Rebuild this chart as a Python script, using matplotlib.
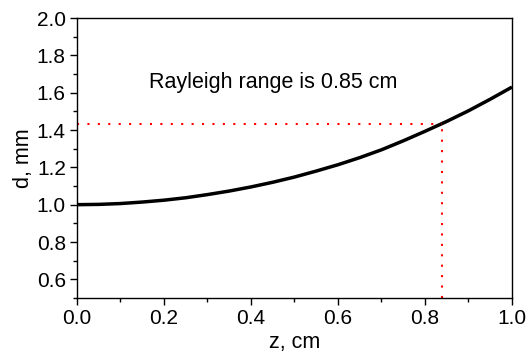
import matplotlib
matplotlib.use("Agg")
import matplotlib.pyplot as plt
from matplotlib.ticker import MultipleLocator

plt.rcParams["font.family"] = ["Liberation Sans", "DejaVu Sans"]

# beam diameter vs distance
z_cm = [0.0, 0.05, 0.1, 0.15, 0.2, 0.25, 0.3, 0.35, 0.4, 0.45, 0.5,
        0.55, 0.6, 0.65, 0.7, 0.75, 0.8, 0.85, 0.9, 0.95, 1.0]
d_mm = [1.000, 1.0015, 1.006, 1.014, 1.024, 1.037, 1.054, 1.073, 1.095, 1.120, 1.148,
        1.180, 1.214, 1.252, 1.294, 1.342, 1.393, 1.446, 1.503, 1.565, 1.630]

z_rayleigh = 0.84
d_rayleigh = 1.43
note = "Rayleigh range is 0.85 cm"

fig = plt.figure(figsize=(5.28, 3.58), dpi=100)
ax = fig.add_axes([0.1458, 0.1676, 0.8239, 0.7821])

ax.plot(z_cm, d_mm, color="black", linewidth=2.5, solid_capstyle="butt")
ax.plot([0, z_rayleigh], [d_rayleigh, d_rayleigh], color="red", linewidth=1.5,
        linestyle=(0, (1, 4)))
ax.plot([z_rayleigh, z_rayleigh], [0.5, d_rayleigh], color="red", linewidth=1.5,
        linestyle=(0, (1, 4)))

ax.text(0.166, 1.657, note, fontsize=15.5, va="center", ha="left")

ax.set_xlim(0, 1.0)
ax.set_ylim(0.5, 2.0)
ax.xaxis.set_major_locator(MultipleLocator(0.2))
ax.xaxis.set_minor_locator(MultipleLocator(0.1))
ax.yaxis.set_minor_locator(MultipleLocator(0.1))
ax.set_yticks([0.6, 0.8, 1.0, 1.2, 1.4, 1.6, 1.8, 2.0])
ax.xaxis.set_major_formatter(plt.FormatStrFormatter("%.1f"))
ax.yaxis.set_major_formatter(plt.FormatStrFormatter("%.1f"))
ax.tick_params(which="both", direction="out", top=False, right=False, labelsize=15)
ax.tick_params(which="major", length=5, width=1, pad=3)
ax.tick_params(which="minor", length=3, width=1)
for s in ax.spines.values():
    s.set_linewidth(1)

ax.set_xlabel("z, cm", fontsize=15.5, labelpad=3)
ax.set_ylabel("d, mm", fontsize=15.5, labelpad=2)

fig.savefig("out.png", dpi=100)
